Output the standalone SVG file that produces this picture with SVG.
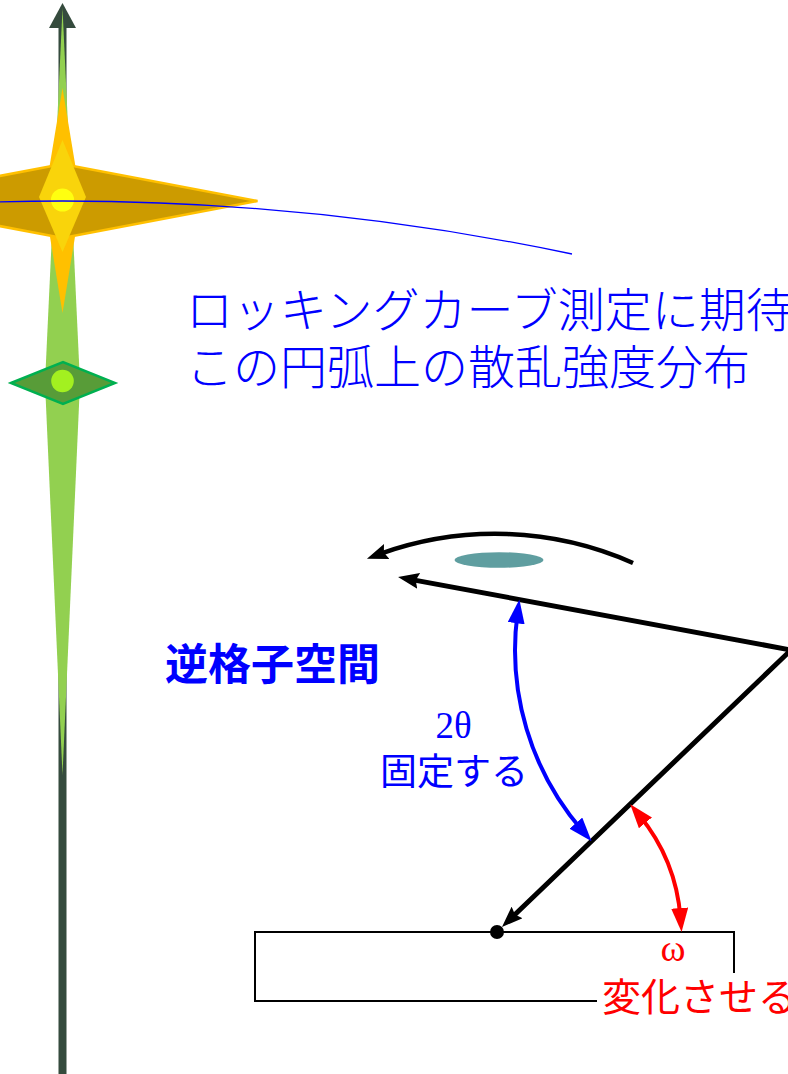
<svg xmlns="http://www.w3.org/2000/svg" width="788" height="1074" viewBox="0 0 788 1074">
  <style>
    .mincho { font-family: "Liberation Serif", "Noto Sans CJK JP", serif; font-weight: 300; }
    .goth { font-family: "Noto Sans CJK JP", "Liberation Sans", sans-serif; }
    .greek { font-family: "Liberation Serif", "DejaVu Serif", serif; }
    .blue { fill: #0000ff; }
    .red { fill: #ff0000; }
    .beam { fill: none; stroke: #000; stroke-width: 5; stroke-linejoin: miter; }
  </style>
  <defs>
    <marker id="head-black" markerUnits="userSpaceOnUse" viewBox="0 0 21 16" markerWidth="21" markerHeight="16" refX="7" refY="8" orient="auto-start-reverse">
      <path d="M0,0 L21,8 L0,16 L3,8 z" fill="#000"/>
    </marker>
    <marker id="head-blue" markerUnits="userSpaceOnUse" viewBox="0 0 24 17" markerWidth="24" markerHeight="17" refX="10" refY="8.5" orient="auto-start-reverse">
      <path d="M0,0 L24,8.5 L0,17 z" fill="#0000ff"/>
    </marker>
    <marker id="head-red" markerUnits="userSpaceOnUse" viewBox="0 0 24 17" markerWidth="24" markerHeight="17" refX="10" refY="8.5" orient="auto-start-reverse">
      <path d="M0,0 L24,8.5 L0,17 z" fill="#ff0000"/>
    </marker>
  </defs>

  <!-- reciprocal lattice axis -->
  <g id="axis">
    <line x1="62.5" y1="1074" x2="62.5" y2="25" stroke="#354b3d" stroke-width="8"/>
    <polygon points="62.5,3 76,28 49,28" fill="#354b3d"/>
    <polygon points="62.5,8 80,383 62.5,775 45,383" fill="#92d050"/>
  </g>

  <!-- bright reflection spot with its streaks -->
  <g id="spot-main">
    <polygon points="62.5,88 81,200 62.5,313 44,200" fill="#ffc000"/>
    <polygon points="-132.5,201 62.5,164 257.5,201 62.5,238" fill="#cc9b00" stroke="#ffc000" stroke-width="2.5"/>
    <polygon points="62.5,140 86,197 62.5,252 39,197" fill="#f9d40b"/>
    <circle cx="62.5" cy="200" r="11.5" fill="#ffff10"/>
  </g>

  <!-- weaker reflection spot -->
  <g id="spot-second">
    <polygon points="11,383 63,362 115,383 63,404" fill="#589c38" stroke="#00b050" stroke-width="2.5"/>
    <circle cx="62.5" cy="381" r="11.3" fill="#a3f020"/>
  </g>

  <!-- sample -->
  <g id="sample">
    <path d="M597,1001 H255 V932 H734 V973" fill="none" stroke="#000" stroke-width="2"/>
    <circle cx="497" cy="932" r="7" fill="#000"/>
  </g>

  <ellipse id="spot-detector" cx="499" cy="560" rx="44.5" ry="7.8" fill="#5f9ea0"/>

  <g id="connectors">
    <!-- rocking arc through the reflection -->
    <path d="M0,201.8 A2480,2480 0 0 1 572,254" fill="none" stroke="#0000ff" stroke-width="1.3"/>
    <!-- incident and scattered beams -->
    <path class="beam" d="M411.8,579.6 L791,650 L512.1,917.3" marker-start="url(#head-black)" marker-end="url(#head-black)"/>
    <!-- rotation sense -->
    <path d="M633,563 A340,340 0 0 0 380.1,553.9" fill="none" stroke="#000" stroke-width="4.5" marker-end="url(#head-black)"/>
    <!-- 2theta -->
    <path d="M517.5,613.3 A276,276 0 0 0 582.4,830.7" fill="none" stroke="#0000ff" stroke-width="4" marker-start="url(#head-blue)" marker-end="url(#head-blue)"/>
    <!-- omega -->
    <path d="M639.1,815.1 A184,184 0 0 1 680.5,918" fill="none" stroke="#ff0000" stroke-width="4" marker-start="url(#head-red)" marker-end="url(#head-red)"/>
  </g>

  <g id="labels">
    <text class="mincho blue" x="186" y="327" font-size="47">ロッキングカーブ測定に期待</text>
    <text class="mincho blue" x="186" y="384" font-size="47">この円弧上の散乱強度分布</text>
    <text class="goth blue" x="165" y="680" font-size="43" font-weight="bold">逆格子空間</text>
    <text class="greek blue" x="453.5" y="738" font-size="37" text-anchor="middle">2θ</text>
    <text class="goth blue" x="380" y="785" font-size="37">固定する</text>
    <text class="greek red" x="673" y="961" font-size="38" text-anchor="middle">ω</text>
    <text class="goth red" x="602" y="1011" font-size="39">変化させる</text>
  </g>
</svg>
